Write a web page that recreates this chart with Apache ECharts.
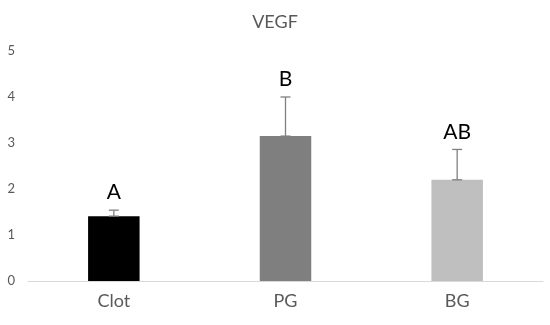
<!DOCTYPE html>
<html>
<head>
<meta charset="utf-8">
<script src="https://cdn.jsdelivr.net/npm/echarts@6/dist/echarts.min.js"></script>
<style>html,body{margin:0;padding:0;background:#fff}#c{width:550px;height:325px}</style>
</head>
<body>
<div id="c"></div>
<script>
var categories = ['Clot', 'PG', 'BG'];
var values = [1.41, 3.15, 2.20];
var errors = [0.13, 0.85, 0.66];
var letters = ['A', 'B', 'AB'];
var barColors = ['#000000', '#7f7f7f', '#bfbfbf'];
var yTicks = [0, 1, 2, 3, 4, 5];

var chart = echarts.init(document.getElementById('c'));
var font = 'Lato, "Open Sans", sans-serif';
chart.setOption({
  animation: false,
  title: {
    text: 'VEGF', left: 'center', top: 8,
    textStyle: { fontFamily: font, fontSize: 18, fontWeight: 'normal', color: '#595959' }
  },
  grid: { left: 28, right: 7, top: 51, bottom: 44 },
  xAxis: {
    type: 'category', data: categories,
    axisLine: { lineStyle: { color: '#d9d9d9', width: 1 } },
    axisTick: { show: false },
    axisLabel: { fontFamily: font, fontSize: 18, color: '#595959', margin: 11 }
  },
  yAxis: {
    type: 'value', min: 0, max: 5, interval: 1,
    splitLine: { show: false },
    axisLine: { show: false },
    axisTick: { show: false },
    axisLabel: { fontFamily: font, fontSize: 13, color: '#595959', margin: 13,
      formatter: function (v) { return yTicks.indexOf(v) >= 0 ? String(v) : ''; } }
  },
  series: [
    {
      type: 'bar', barWidth: '30%',
      data: values.map(function (v, i) { return { value: v, itemStyle: { color: barColors[i] } }; })
    },
    {
      type: 'custom', z: 10,
      data: values.map(function (v, i) { return [i, v, v + errors[i]]; }),
      renderItem: function (params, api) {
        var x = api.value(0);
        var p0 = api.coord([x, api.value(1)]);
        var p1 = api.coord([x, api.value(2)]);
        var idx = params.dataIndex;
        return {
          type: 'group',
          children: [
            { type: 'line', shape: { x1: p0[0], y1: p0[1], x2: p1[0], y2: p1[1] }, style: { stroke: '#7f7f7f', lineWidth: 1.3 } },
            { type: 'line', shape: { x1: p0[0] - 5, y1: p1[1], x2: p0[0] + 5, y2: p1[1] }, style: { stroke: '#7f7f7f', lineWidth: 1.3 } },
            { type: 'line', shape: { x1: p0[0] - 5, y1: p0[1], x2: p0[0] + 5, y2: p0[1] }, style: { stroke: '#7f7f7f', lineWidth: 1.3 } },
            { type: 'text', x: p0[0], y: p1[1] - 7, style: { text: letters[idx], fill: '#000', font: '21px ' + font, align: 'center', verticalAlign: 'bottom' } }
          ]
        };
      }
    }
  ]
});
</script>
</body>
</html>
